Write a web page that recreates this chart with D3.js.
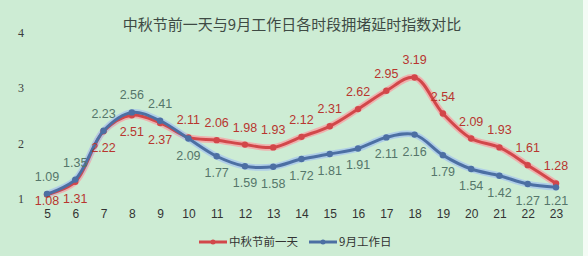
<!DOCTYPE html>
<html><head><meta charset="utf-8">
<script src="https://cdn.jsdelivr.net/npm/d3@7"></script>
<style>html,body{margin:0;padding:0;background:#cdecd4;}svg{display:block;}</style>
</head><body>
<svg id="chart" width="588" height="256"></svg>
<script>
const hours = [5,6,7,8,9,10,11,12,13,14,15,16,17,18,19,20,21,22,23];
const holidayEve = [1.08,1.31,2.22,2.51,2.37,2.11,2.06,1.98,1.93,2.12,2.31,2.62,2.95,3.19,2.54,2.09,1.93,1.61,1.28];
const septWorkday = [1.09,1.35,2.23,2.56,2.41,2.09,1.77,1.59,1.58,1.72,1.81,1.91,2.11,2.16,1.79,1.54,1.42,1.27,1.21];
const yTicks = [1,2,3,4];
const seriesNames = ["中秋节前一天","9月工作日"];
const title = "中秋节前一天与9月工作日各时段拥堵延时指数对比";

const svg = d3.select("#chart");
svg.append("rect").attr("width",588).attr("height",256).attr("fill","#cdecd4");
svg.append("rect").attr("x",583).attr("width",5).attr("height",256).attr("fill","#f4fbf5");

const x = d3.scalePoint().domain(hours).range([47,556]);
const y = d3.scaleLinear().domain([1,4]).range([199,32.5]);

svg.append("text").attr("x",292).attr("y",30).attr("text-anchor","middle")
  .attr("font-family","Noto Sans CJK SC").attr("font-size",15).attr("fill","#3e4a44").text(title);

const yAxis = svg.append("g").attr("transform","translate(26,0)")
  .call(d3.axisLeft(y).tickValues(yTicks).tickSize(0).tickFormat(d3.format("d")));
yAxis.select(".domain").remove();
yAxis.selectAll("text").attr("font-family","Liberation Serif").attr("font-size",12).attr("fill","#3c3c3c").attr("x",-2);

const xAxis = svg.append("g").attr("transform","translate(0,208)")
  .call(d3.axisBottom(x).tickSize(0));
xAxis.select(".domain").remove();
xAxis.selectAll("text").attr("font-family","Liberation Sans").attr("font-size",12).attr("fill","#333").attr("dy","0.6em");

const series = [
  {name:seriesNames[0], values:holidayEve, color:"#d2474a", halo:"#f3a7a7", label:"#b8362f"},
  {name:seriesNames[1], values:septWorkday, color:"#4c6fa3", halo:"#a9c9ea", label:"#55766a"}
];
const line = d3.line().x((d,i)=>x(hours[i])).y(d=>y(d)).curve(d3.curveCatmullRom.alpha(0.5));

series.forEach(s=>{
  svg.append("path").attr("d",line(s.values)).attr("fill","none").attr("stroke",s.halo).attr("stroke-width",6.5).attr("stroke-opacity",0.85).attr("stroke-linecap","round");
});
series.forEach(s=>{
  svg.append("path").attr("d",line(s.values)).attr("fill","none").attr("stroke",s.color).attr("stroke-width",3).attr("stroke-linecap","round");
  svg.selectAll(null).data(s.values).enter().append("circle")
    .attr("cx",(d,i)=>x(hours[i])).attr("cy",d=>y(d)).attr("r",3.2).attr("fill",s.color);
});

// labels: red below for morning (5-9), above afterwards; blue opposite
series.forEach((s,si)=>{
  svg.selectAll(null).data(s.values).enter().append("text")
    .attr("x",(d,i)=>x(hours[i]))
    .attr("y",(d,i)=>{
      const morning = hours[i] < 10;
      const above = si===0 ? !morning : morning;
      return above ? y(d) - 13 : Math.min(y(d) + 21, 204.5);
    })
    .attr("text-anchor","middle")
    .attr("font-family","Liberation Sans").attr("font-size",12.5).attr("fill",s.label)
    .text(d=>d.toFixed(2));
});

// legend
const legend = [{x:199},{x:309}];
series.forEach((s,i)=>{
  const lx = legend[i].x;
  svg.append("line").attr("x1",lx).attr("x2",lx+28).attr("y1",242).attr("y2",242).attr("stroke",s.color).attr("stroke-width",3);
  svg.append("circle").attr("cx",lx+14).attr("cy",242).attr("r",2.5).attr("fill",s.color);
  svg.append("text").attr("x",lx+30).attr("y",246).attr("font-family","Noto Sans CJK SC").attr("font-size",11.5).attr("fill","#333").text(s.name);
});
</script>
</body></html>
